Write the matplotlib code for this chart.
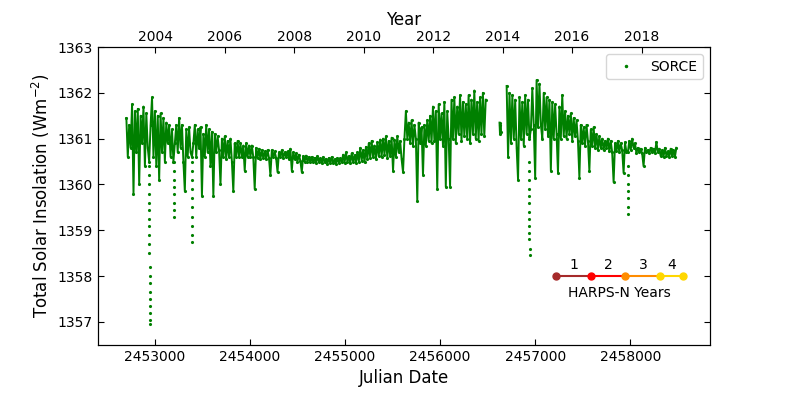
import numpy as np
import pandas as pd
import matplotlib
matplotlib.use("Agg")
import matplotlib.pyplot as plt
from matplotlib.lines import Line2D

seg1_start = 2452700
seg1_step = 15
seg1_tsi = [
    1361.45, 1360.6, 1361.3, 1360.8, 1361.75, 1359.8, 1361.6,
    1360.7, 1361.65, 1360.0, 1361.5, 1360.9, 1361.7, 1360.4, 1361.55, 1360.8,
    1360.5,
    1361.3, 1361.9, 1360.6, 1361.6, 1360.4, 1361.5, 1360.1, 1361.55, 1360.7, 1361.45, 1360.5, 1361.35, 1360.9,
    1361.3, 1360.6, 1361.2, 1360.5, 1360.9, 1361.3, 1360.7, 1361.45, 1360.8, 1361.3,
    1360.5, 1359.85, 1361.2, 1360.6, 1361.25, 1360.7, 1360.6, 1360.9,
    1361.3, 1360.6, 1361.2, 1360.8, 1361.25, 1359.75, 1361.1, 1360.6, 1361.3, 1360.7,
    1361.2, 1360.4, 1361.15, 1359.75, 1361.1, 1360.7, 1361.05, 1360.75,
    1360.0, 1361.0, 1360.6, 1361.05, 1360.55, 1360.95, 1360.6, 1361.0, 1360.5, 1359.85,
    1360.9, 1360.6, 1360.95, 1360.6, 1360.9, 1360.6, 1360.85, 1360.3, 1360.9, 1360.6,
    1360.85, 1360.6, 1360.85, 1360.6,
    1359.9, 1360.8, 1360.58, 1360.78, 1360.55, 1360.75, 1360.58, 1360.72, 1360.55, 1360.75,
    1360.58, 1360.2, 1360.75, 1360.6, 1360.72, 1360.58, 1360.27, 1360.7, 1360.6, 1360.75,
    1360.58, 1360.7, 1360.6, 1360.72, 1360.55, 1360.78, 1360.3, 1360.7, 1360.55, 1360.68,
    1360.5, 1360.65, 1360.52, 1360.27, 1360.62, 1360.5, 1360.63, 1360.5, 1360.6, 1360.48,
    1360.6, 1360.48, 1360.58, 1360.47, 1360.62, 1360.49, 1360.57, 1360.46, 1360.6, 1360.48,
    1360.56, 1360.45, 1360.58, 1360.47, 1360.6, 1360.46, 1360.55, 1360.45, 1360.58, 1360.47, 1360.57,
    1360.48, 1360.65, 1360.47, 1360.7, 1360.5, 1360.62, 1360.46, 1360.68, 1360.5, 1360.64, 1360.47, 1360.7,
    1360.5, 1360.8, 1360.52, 1360.75, 1360.48, 1360.82, 1360.55,
    1360.9, 1360.58, 1360.95, 1360.6, 1360.85, 1360.55, 1360.92, 1360.62, 1360.98,
    1360.6, 1361.0, 1360.65, 1361.05, 1360.58, 1360.95, 1360.62, 1361.02, 1360.3, 1360.98,
    1360.6, 1361.05, 1360.7, 1360.95, 1360.55, 1360.27, 1361.0,
    1361.6, 1361.0,
    1361.35, 1360.9, 1361.4, 1360.85, 1361.3, 1361.0, 1359.65, 1361.35, 1360.9, 1361.25,
    1360.2, 1361.3, 1360.85, 1361.4, 1360.95, 1361.5, 1360.9,
    1361.7, 1360.95, 1361.6, 1359.9, 1361.75, 1361.0, 1361.55, 1360.85, 1361.8, 1359.95,
    1361.6, 1361.0,
    1359.95,
    1361.85, 1361.0, 1361.9, 1360.9, 1361.7, 1361.1, 1361.95, 1360.95, 1361.8, 1361.05, 1361.75,
    1361.0, 1361.95, 1360.9, 1361.85, 1361.1, 1362.05, 1361.0, 1361.8, 1360.95, 1361.9,
    1361.1, 1362.0, 1361.05, 1361.85,
]

# short isolated run inside the 2013 gap
seg2_start = 2456625
seg2_step = 5
seg2_tsi = [1361.35, 1361.1, 1361.3, 1361.15]

seg3_start = 2456700
seg3_step = 15
seg3_tsi = [
    1362.15, 1360.6, 1362.0, 1360.9, 1361.95, 1361.0, 1361.85, 1360.8, 1360.1, 1361.9,
    1361.0, 1361.8, 1360.85, 1361.95, 1361.1, 1361.85,
    1361.0,
    1361.2, 1362.1, 1361.3, 1360.15, 1362.28, 1361.25,
    1362.2, 1361.3, 1361.0, 1362.0, 1361.2,
    1361.9, 1361.05, 1361.85, 1360.3,
    1361.8, 1361.0, 1361.75, 1361.1, 1360.25, 1361.7, 1361.0,
    1361.95, 1361.05,
    1361.6, 1361.0, 1361.5, 1361.1, 1361.55, 1360.95, 1361.45, 1361.05, 1361.4, 1360.95,
    1360.15,
    1361.3, 1360.9, 1361.25, 1360.85, 1361.3, 1360.95, 1360.3, 1361.2, 1360.85, 1361.25,
    1360.8, 1361.1,
    1360.75, 1361.05, 1360.8, 1361.0, 1360.75, 1360.95, 1360.8, 1361.0, 1360.72,
    1360.95, 1360.7, 1360.05, 1360.9, 1360.72, 1360.95, 1360.7, 1360.9, 1360.75, 1360.25,
    1360.92, 1360.7, 1360.7,
    1360.95, 1360.75, 1361.0, 1360.8, 1360.9,
    1360.68, 1360.8, 1360.7, 1360.78, 1360.68, 1360.4, 1360.8, 1360.7, 1360.75, 1360.68,
    1360.8, 1360.7, 1360.78, 1360.68,
    1360.93, 1360.7,
    1360.78, 1360.62, 1360.75, 1360.6, 1360.8, 1360.63, 1360.72, 1360.6, 1360.78, 1360.62,
    1360.75, 1360.6, 1360.8,
]

# sub-daily points inside the deep sunspot dips (drawn as dotted columns)
dip_jd = [2452938.0, 2452938.5, 2452939.0, 2452939.5, 2452940.0, 2452940.5, 2452941.0,
          2452941.5, 2452942.0, 2452942.5, 2452943.0, 2452943.5, 2452944.0, 2452944.5,
          2452945.0, 2452945.5, 2452946.0, 2452946.5, 2452947.0, 2452947.5,
          2453196.0, 2453196.5, 2453197.0, 2453197.5, 2453198.0, 2453198.5, 2453199.0, 2453199.5,
          2453386.0, 2453386.5, 2453387.0, 2453387.5, 2453388.0, 2453388.5, 2453389.0,
          2453389.5, 2453390.0, 2453390.5,
          2456935.0, 2456935.5, 2456936.0, 2456936.5, 2456937.0, 2456937.5, 2456938.0,
          2456938.5, 2456939.0, 2456939.5, 2456940.0, 2456940.5, 2456941.0,
          2457972.0, 2457972.5, 2457973.0, 2457973.5, 2457974.0, 2457974.5, 2457975.0]
dip_tsi = [1360.4, 1360.2, 1360.0, 1359.8, 1359.6, 1359.45, 1359.25,
           1359.1, 1358.9, 1358.7, 1358.5, 1358.2, 1358.0, 1357.85,
           1357.65, 1357.5, 1357.35, 1357.2, 1357.05, 1356.95,
           1360.5, 1360.3, 1360.1, 1359.95, 1359.8, 1359.6, 1359.45, 1359.3,
           1360.5, 1360.3, 1360.1, 1359.9, 1359.7, 1359.5, 1359.3,
           1359.1, 1358.9, 1358.75,
           1360.5, 1360.3, 1360.1, 1359.9, 1359.75, 1359.6, 1359.4,
           1359.25, 1359.1, 1358.95, 1358.8, 1358.6, 1358.45,
           1360.4, 1360.2, 1360.0, 1359.85, 1359.7, 1359.5, 1359.35]

harps_jd = [2457220, 2457585, 2457950, 2458315, 2458555]
harps_colors = ["brown", "red", "darkorange", "gold", "gold"]
harps_labels = ["1", "2", "3", "4"]
harps_level = 1358.0

year_ticks = [2004, 2006, 2008, 2010, 2012, 2014, 2016, 2018]

green = "#008000"

fig = plt.figure(figsize=(7.89, 3.95), dpi=100)
ax = fig.add_axes([0.124, 0.127, 0.776, 0.754])

segments = [(seg1_start, seg1_step, seg1_tsi),
            (seg2_start, seg2_step, seg2_tsi),
            (seg3_start, seg3_step, seg3_tsi)]
for start, step, tsi in segments:
    jd = start + step * np.arange(len(tsi))
    ax.plot(jd, tsi, "-", color=green, lw=1.4)
    ax.plot(jd, tsi, ".", color=green, ms=2.5)
ax.plot(dip_jd, dip_tsi, ".", color=green, ms=2.5, ls="none")

# HARPS-N year markers
for i in range(len(harps_jd) - 1):
    ax.plot(harps_jd[i:i + 2], [harps_level, harps_level], "-", color=harps_colors[i], lw=1.5)
    ax.text((harps_jd[i] + harps_jd[i + 1]) / 2, harps_level + 0.25, harps_labels[i],
            ha="center", va="center", fontsize=10)
for x, c in zip(harps_jd, harps_colors):
    ax.plot(x, harps_level, "o", color=c, ms=5)
ax.text((harps_jd[0] + harps_jd[-1]) / 2, harps_level - 0.36, "HARPS-N Years",
        ha="center", va="center", fontsize=10)

ax.set_xlim(2452400, 2458840)
ax.set_ylim(1356.5, 1363)
ax.set_xticks([2453000, 2454000, 2455000, 2456000, 2457000, 2458000])
ax.xaxis.set_major_formatter(plt.FormatStrFormatter("%d"))
ax.set_yticks([1357, 1358, 1359, 1360, 1361, 1362, 1363])
ax.tick_params(direction="in", length=4, labelsize=10, right=True, top=False)
ax.set_xlabel("Julian Date", fontsize=12)
ax.set_ylabel("Total Solar Insolation (Wm$^{-2}$)", fontsize=12)

handle = Line2D([], [], marker=".", ls="none", color=green, ms=3)
ax.legend(handles=[handle], labels=["SORCE"], loc="upper right", fontsize=10, numpoints=1)

ax2 = ax.twiny()
ax2.set_xlim(ax.get_xlim())
ax2.set_xticks([pd.Timestamp(f"{y}-01-01").to_julian_date() for y in year_ticks])
ax2.set_xticklabels([str(y) for y in year_ticks])
ax2.tick_params(direction="in", length=4, labelsize=10, pad=2)
ax2.set_xlabel("Year", fontsize=12)

fig.savefig("out.png", dpi=100)
